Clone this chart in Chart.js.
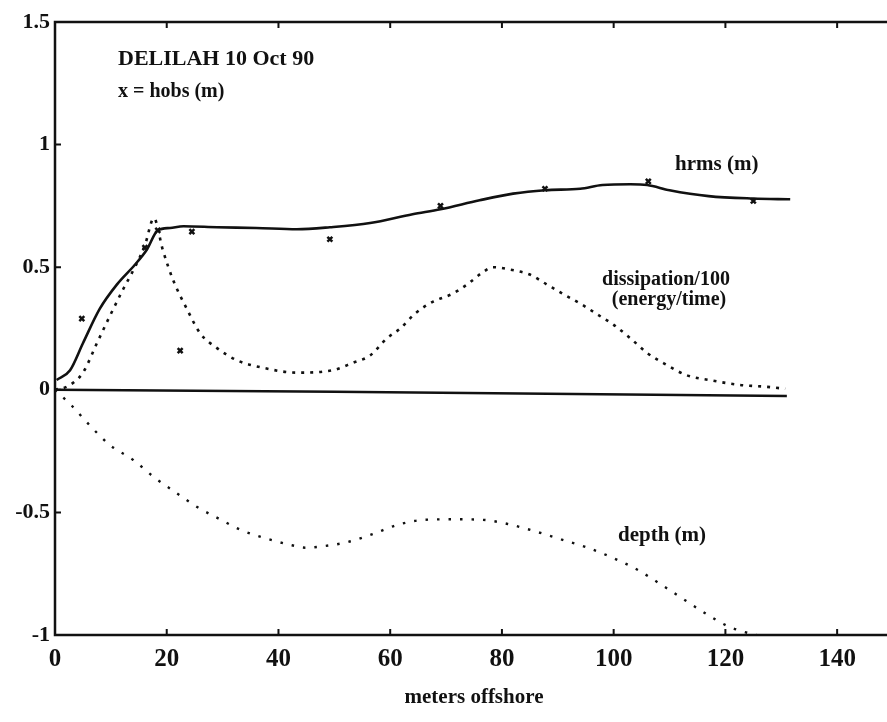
<!DOCTYPE html>
<html>
<head>
<meta charset="utf-8">
<script src="https://cdn.jsdelivr.net/npm/chart.js@4"></script>
<style>
html, body { margin: 0; padding: 0; background: #fff; overflow: hidden; }
</style>
</head>
<body>
<canvas id="chart" width="900" height="722"></canvas>
<script>
// axis ticks
const xTicks = [0, 20, 40, 60, 80, 100, 120, 140];
const yTicks = [-1, -0.5, 0, 0.5, 1, 1.5];

// hrms (m), solid line
const hrmsDist = [0.3, 2.7, 5, 8, 11.1, 14.3, 16.4, 18.4, 20.6, 23, 29, 36, 43.3, 49.2, 56.4, 64, 69, 76, 82, 87.7, 94, 98, 103, 106, 110, 117, 125, 131.6];
const hrmsVals = [0.04, 0.08, 0.19, 0.33, 0.43, 0.51, 0.57, 0.65, 0.66, 0.667, 0.663, 0.66, 0.655, 0.663, 0.68, 0.716, 0.736, 0.773, 0.80, 0.814, 0.82, 0.835, 0.838, 0.835, 0.814, 0.79, 0.78, 0.777];

// hobs (m), x markers
const hobsDist = [4.8, 16.1, 18.4, 22.4, 24.5, 49.2, 69, 87.7, 106.2, 125];
const hobsVals = [0.29, 0.58, 0.65, 0.16, 0.645, 0.614, 0.75, 0.82, 0.85, 0.77];

// dissipation/100, dotted
const dissDist = [0, 2.3, 5, 7.5, 9.8, 12.2, 14.3, 16.1, 17.7, 19.3, 21.1, 23.6, 26, 29, 32.6, 37.2, 43.3, 49.8, 53.3, 56.4, 59.4, 61.8, 64.4, 67.7, 71, 73.8, 76.6, 78.4, 81.5, 85, 88, 91, 94.5, 97.6, 100, 103, 106, 109.6, 113, 117.8, 122.6, 127.5, 130.7];
const dissVals = [0, 0.015, 0.07, 0.19, 0.30, 0.41, 0.50, 0.59, 0.70, 0.57, 0.45, 0.33, 0.23, 0.17, 0.12, 0.09, 0.07, 0.08, 0.11, 0.14, 0.21, 0.25, 0.31, 0.36, 0.39, 0.43, 0.48, 0.50, 0.49, 0.47, 0.43, 0.39, 0.345, 0.30, 0.265, 0.21, 0.15, 0.10, 0.06, 0.037, 0.02, 0.012, 0.004];

// depth (m), dotted
const depthDist = [0, 3, 6.3, 9.8, 14, 17.7, 21.7, 25.6, 29.7, 33.1, 37.6, 42.4, 44.9, 47.2, 52.2, 56.7, 61.4, 66.3, 71.4, 76.4, 81.2, 85.9, 90.6, 95.1, 99.6, 104.1, 108.2, 112.3, 116.3, 120.4, 123, 127.3];
const depthVals = [0, -0.065, -0.147, -0.225, -0.286, -0.356, -0.42, -0.48, -0.53, -0.57, -0.605, -0.634, -0.644, -0.64, -0.622, -0.59, -0.55, -0.53, -0.528, -0.53, -0.548, -0.577, -0.61, -0.642, -0.683, -0.732, -0.79, -0.851, -0.91, -0.964, -0.985, -1.01];

// zero reference line
const zeroDist = [0, 50, 131];
const zeroVals = [0, -0.008, -0.025];

const ink = '#111';
const serif = "'Liberation Serif', 'DejaVu Serif', serif";

function pts(xs, ys) {
    return xs.map((v, i) => ({x: v, y: ys[i]}));
}

// free text on the plot
const notes = [
    {text: 'DELILAH 10 Oct 90', x: 118, y: 65, size: 22, align: 'left'},
    {text: 'x = hobs (m)', x: 118, y: 97, size: 20, align: 'left'},
    {text: 'hrms (m)', x: 675, y: 170, size: 21, align: 'left'},
    {text: 'dissipation/100', x: 666, y: 285, size: 20, align: 'center'},
    {text: '(energy/time)', x: 669, y: 305, size: 20, align: 'center'},
    {text: 'depth (m)', x: 618, y: 541, size: 21, align: 'left'}
];

const framePlugin = {
    id: 'frame',
    afterDatasetsDraw(chart) {
        const ctx = chart.ctx;
        const a = chart.chartArea;
        const x = chart.scales.x;
        const y = chart.scales.y;

        ctx.save();
        ctx.strokeStyle = ink;
        ctx.lineWidth = 2.5;
        ctx.strokeRect(a.left, a.top, a.right - a.left, a.bottom - a.top);

        ctx.lineWidth = 2;
        ctx.beginPath();
        xTicks.forEach(v => {
            const px = x.getPixelForValue(v);
            ctx.moveTo(px, a.bottom); ctx.lineTo(px, a.bottom - 6);
            ctx.moveTo(px, a.top); ctx.lineTo(px, a.top + 6);
        });
        yTicks.forEach(v => {
            const py = y.getPixelForValue(v);
            ctx.moveTo(a.left, py); ctx.lineTo(a.left + 6, py);
            ctx.moveTo(a.right, py); ctx.lineTo(a.right - 6, py);
        });
        ctx.stroke();

        ctx.fillStyle = ink;
        ctx.textBaseline = 'alphabetic';
        notes.forEach(n => {
            ctx.font = 'bold ' + n.size + 'px ' + serif;
            ctx.textAlign = n.align;
            ctx.fillText(n.text, n.x, n.y);
        });
        ctx.restore();
    }
};

new Chart(document.getElementById('chart'), {
    type: 'line',
    data: {
        datasets: [
            {
                label: 'hrms (m)',
                data: pts(hrmsDist, hrmsVals),
                borderColor: ink,
                borderWidth: 2.6,
                pointRadius: 0,
                cubicInterpolationMode: 'monotone'
            },
            {
                label: 'hobs (m)',
                data: pts(hobsDist, hobsVals),
                showLine: false,
                pointStyle: 'crossRot',
                pointRadius: 3.5,
                borderColor: ink,
                pointBorderWidth: 2.5
            },
            {
                label: 'dissipation/100',
                data: pts(dissDist, dissVals),
                borderColor: ink,
                borderWidth: 2.6,
                borderDash: [3, 6],
                pointRadius: 0,
                cubicInterpolationMode: 'monotone'
            },
            {
                label: 'depth (m)',
                data: pts(depthDist, depthVals),
                borderColor: ink,
                borderWidth: 2.4,
                borderDash: [2.5, 9],
                pointRadius: 0,
                cubicInterpolationMode: 'monotone'
            },
            {
                label: 'zero',
                data: pts(zeroDist, zeroVals),
                borderColor: ink,
                borderWidth: 2.6,
                pointRadius: 0
            }
        ]
    },
    options: {
        responsive: false,
        animation: false,
        layout: {
            padding: {top: 22, right: 7, left: 0, bottom: 0}
        },
        plugins: {
            legend: {display: false},
            tooltip: {enabled: false}
        },
        scales: {
            x: {
                type: 'linear',
                min: 0,
                max: 150,
                afterBuildTicks: scale => {
                    scale.ticks = xTicks.map(v => ({value: v}));
                },
                afterFit: scale => {
                    scale.height = 87;
                },
                grid: {display: false, drawTicks: false},
                border: {display: false},
                ticks: {
                    color: ink,
                    padding: 10,
                    maxRotation: 0,
                    callback: v => String(v),
                    font: {family: serif, size: 25, weight: 'bold'}
                },
                title: {
                    display: true,
                    text: 'meters offshore',
                    color: ink,
                    padding: {top: 0, bottom: 12},
                    font: {family: serif, size: 21, weight: 'bold'}
                }
            },
            y: {
                type: 'linear',
                min: -1,
                max: 1.5,
                afterBuildTicks: scale => {
                    scale.ticks = yTicks.map(v => ({value: v}));
                },
                afterFit: scale => {
                    scale.width = 55;
                },
                grid: {display: false, drawTicks: false},
                border: {display: false},
                ticks: {
                    color: ink,
                    padding: 5,
                    callback: v => String(v),
                    font: {family: serif, size: 22, weight: 'bold'}
                }
            }
        }
    },
    plugins: [framePlugin]
});
</script>
</body>
</html>
